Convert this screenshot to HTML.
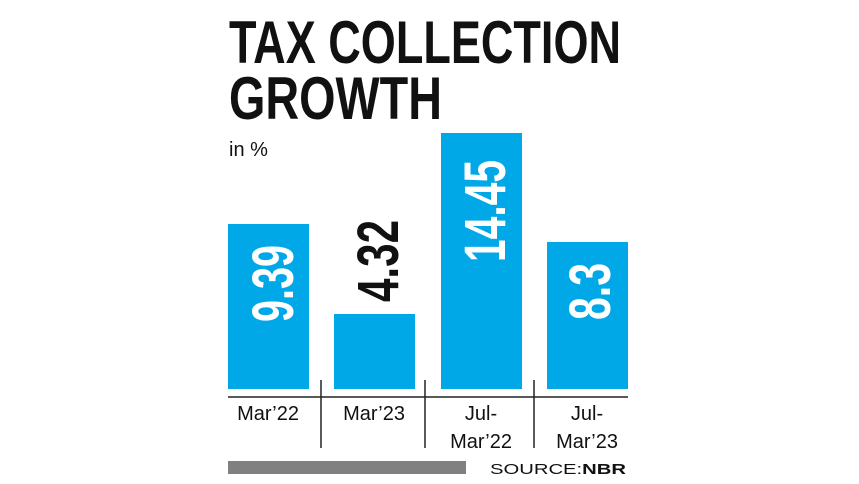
<!DOCTYPE html>
<html><head><meta charset="utf-8"><style>
html,body{margin:0;padding:0;background:#fff;}
svg{display:block;}
</style></head><body>
<svg width="859" height="484" viewBox="0 0 859 484" xmlns="http://www.w3.org/2000/svg">
<rect width="859" height="484" fill="#fff"/>
<g font-family="Liberation Sans, sans-serif" font-weight="bold" fill="#111">
<text x="229" y="63" font-size="60" textLength="392" lengthAdjust="spacingAndGlyphs">TAX COLLECTION</text>
<text x="229" y="119" font-size="60" textLength="213" lengthAdjust="spacingAndGlyphs">GROWTH</text>
</g>
<text x="229" y="156" font-family="Liberation Sans, sans-serif" font-size="20" fill="#111">in %</text>
<g fill="#00a8e8">
<rect x="228" y="224" width="81" height="165"/>
<rect x="334" y="314" width="81" height="75"/>
<rect x="441" y="133" width="81" height="256"/>
<rect x="547" y="242" width="81" height="147"/>
</g>
<g font-family="Liberation Sans, sans-serif" font-weight="bold" font-size="58">
<text transform="translate(293,322) rotate(-90)" fill="#fff" textLength="77" lengthAdjust="spacingAndGlyphs">9.39</text>
<text transform="translate(398,302) rotate(-90)" fill="#111" textLength="82" lengthAdjust="spacingAndGlyphs">4.32</text>
<text transform="translate(505,262) rotate(-90)" fill="#fff" textLength="102" lengthAdjust="spacingAndGlyphs">14.45</text>
<text transform="translate(610,320) rotate(-90)" fill="#fff" textLength="57" lengthAdjust="spacingAndGlyphs">8.3</text>
</g>
<line x1="228" y1="397" x2="628" y2="397" stroke="#222" stroke-width="1.5"/>
<g stroke="#222" stroke-width="1.5">
<line x1="321" y1="380" x2="321" y2="448"/>
<line x1="425" y1="380" x2="425" y2="448"/>
<line x1="534" y1="380" x2="534" y2="448"/>
</g>
<g font-family="Liberation Sans, sans-serif" font-size="20" fill="#111" text-anchor="middle">
<text x="268" y="420">Mar’22</text>
<text x="374" y="420">Mar’23</text>
<text x="481" y="420">Jul-</text>
<text x="481" y="448">Mar’22</text>
<text x="587" y="420">Jul-</text>
<text x="587" y="448">Mar’23</text>
</g>
<rect x="228" y="461" width="238" height="13" fill="#808080"/>
<text x="490" y="474" font-family="Liberation Sans, sans-serif" font-size="15" fill="#111" textLength="136" lengthAdjust="spacingAndGlyphs">SOURCE:<tspan font-weight="bold">NBR</tspan></text>
</svg>
</body></html>
